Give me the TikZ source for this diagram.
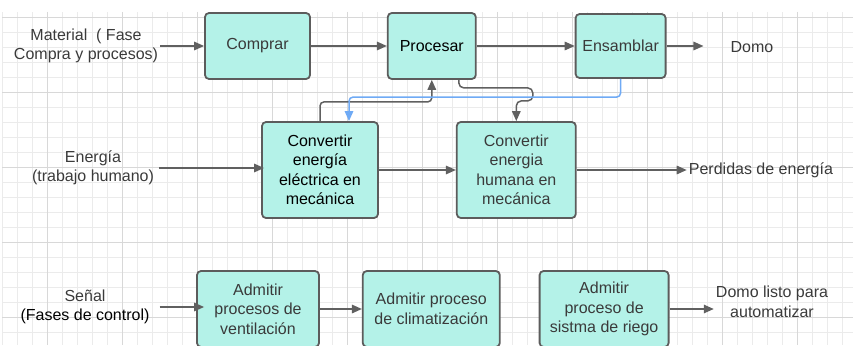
\documentclass[tikz,border=0pt]{standalone}
\usepackage{fontspec}
\setmainfont{Liberation Sans}
\usepackage{xcolor}
\usetikzlibrary{positioning,calc,arrows.meta}

\definecolor{boxfill}{HTML}{B4F2E8}
\definecolor{boxline}{HTML}{5C5C5C}
\definecolor{arrowgrey}{HTML}{606060}
\definecolor{linkblue}{HTML}{6FAAF5}
\definecolor{gridminor}{HTML}{EBEBEB}
\definecolor{gridmajor}{HTML}{D8D8D8}
\definecolor{txt}{HTML}{3A3A3A}

\begin{document}
\begin{tikzpicture}[
    x=1pt, y=-1pt,
    node distance=77pt and 77pt,
    every node/.style={font=\fontsize{16}{19.5}\selectfont, align=center, text=txt},
    box/.style={draw=boxline, fill=boxfill, line width=1.8pt, rounded corners=4pt, inner sep=2pt},
    lbl/.style={inner sep=2pt},
    arrow/.style={-{Triangle[length=10pt, width=8.5pt]}, draw=arrowgrey, line width=1.5pt},
    bluearrow/.style={arrow, draw=linkblue}
]
\useasboundingbox (0,0) rectangle (853,345);
\clip (0,0) rectangle (853,345);

% Grid
\foreach \k in {0,...,56}
  \draw[gridminor, line width=0.9pt] ({2.5+15*\k},12) -- ({2.5+15*\k},345);
\foreach \k in {0,...,21}
  \draw[gridminor, line width=0.9pt] (2,{17.5+15*\k}) -- (853,{17.5+15*\k});
\foreach \k in {0,...,10}
  \draw[gridmajor, line width=0.9pt] ({47.5+75*\k},12) -- ({47.5+75*\k},345);
\foreach \k in {0,...,4}
  \draw[gridmajor, line width=0.9pt] (2,{17.5+75*\k}) -- (853,{17.5+75*\k});

% Nodes
\node[box, minimum width=105pt, minimum height=66pt] (comprar) at (257.5,46) {Comprar};
\node[box, text=black, minimum width=88pt, minimum height=66pt, right=76pt of comprar] (procesar) {Procesar};
\node[box, minimum width=90pt, minimum height=64pt, right=98pt of procesar] (ensamblar) {Ensamblar};
\node[lbl] (material) at (86,46) {Material\ \ ( Fase\\Compra y procesos)};
\node[lbl] (domo) at (752,47) {Domo};

\node[box, text=black, minimum width=116pt, minimum height=96pt] (elec) at (320,170) {Convertir\\energía\\eléctrica en\\mecánica};
\node[box, minimum width=119pt, minimum height=96pt, right=77pt of elec] (humana) {Convertir\\energia\\humana en\\mecánica};
\node[lbl] (energia) at (93,168) {Energía\\(trabajo humano)};
\node[lbl, right=110pt of humana] (perdidas) {Perdidas de energía};

\node[box, minimum width=122pt, minimum height=76pt] (venti) at (258,309) {Admitir\\procesos de\\ventilación};
\node[box, minimum width=137pt, minimum height=76pt, right=42pt of venti] (clima) {Admitir proceso\\de climatización};
\node[box, minimum width=129pt, minimum height=76pt, right=38pt of clima] (riego) {Admitir\\proceso de\\sistma de riego};
\node[lbl] (senal) at (85,307) {Señal\\\color{black}(Fases de control)};
\node[lbl] (listo) at (772,302) {Domo listo para\\automatizar};

% Arrows
\draw[arrow] (material.east) -- (material.east -| comprar.west);
\draw[arrow] (comprar) -- (procesar);
\draw[arrow] (procesar) -- (ensamblar);
\draw[arrow] (ensamblar.east) -- ([xshift=-25pt]ensamblar.east -| domo.west);

\draw[arrow] ([xshift=3pt]energia.east) -- ([xshift=3pt]energia.east -| elec.west);
\draw[arrow] (elec) -- (humana);
\draw[arrow] (humana) -- (perdidas);

\draw[arrow] ([xshift=8pt]senal.east) -- ([xshift=8pt]senal.east -| venti.west);
\draw[arrow] (venti) -- (clima);
\draw[arrow] (riego) -- (riego -| listo.west);

% Links between rows
\draw[arrow, rounded corners=4pt] (elec.north) |- ([yshift=-22pt]procesar.south) -- (procesar.south);
\draw[arrow, rounded corners=5pt] ([xshift=27pt]procesar.south) -- ++(0,8) -- ++(74,0) -- ++(0,13) -| (humana.north);
\draw[bluearrow, rounded corners=4pt] (ensamblar.south) |- ([xshift=29pt, yshift=24pt]elec.north) -- ([xshift=29pt]elec.north);

\end{tikzpicture}
\end{document}
